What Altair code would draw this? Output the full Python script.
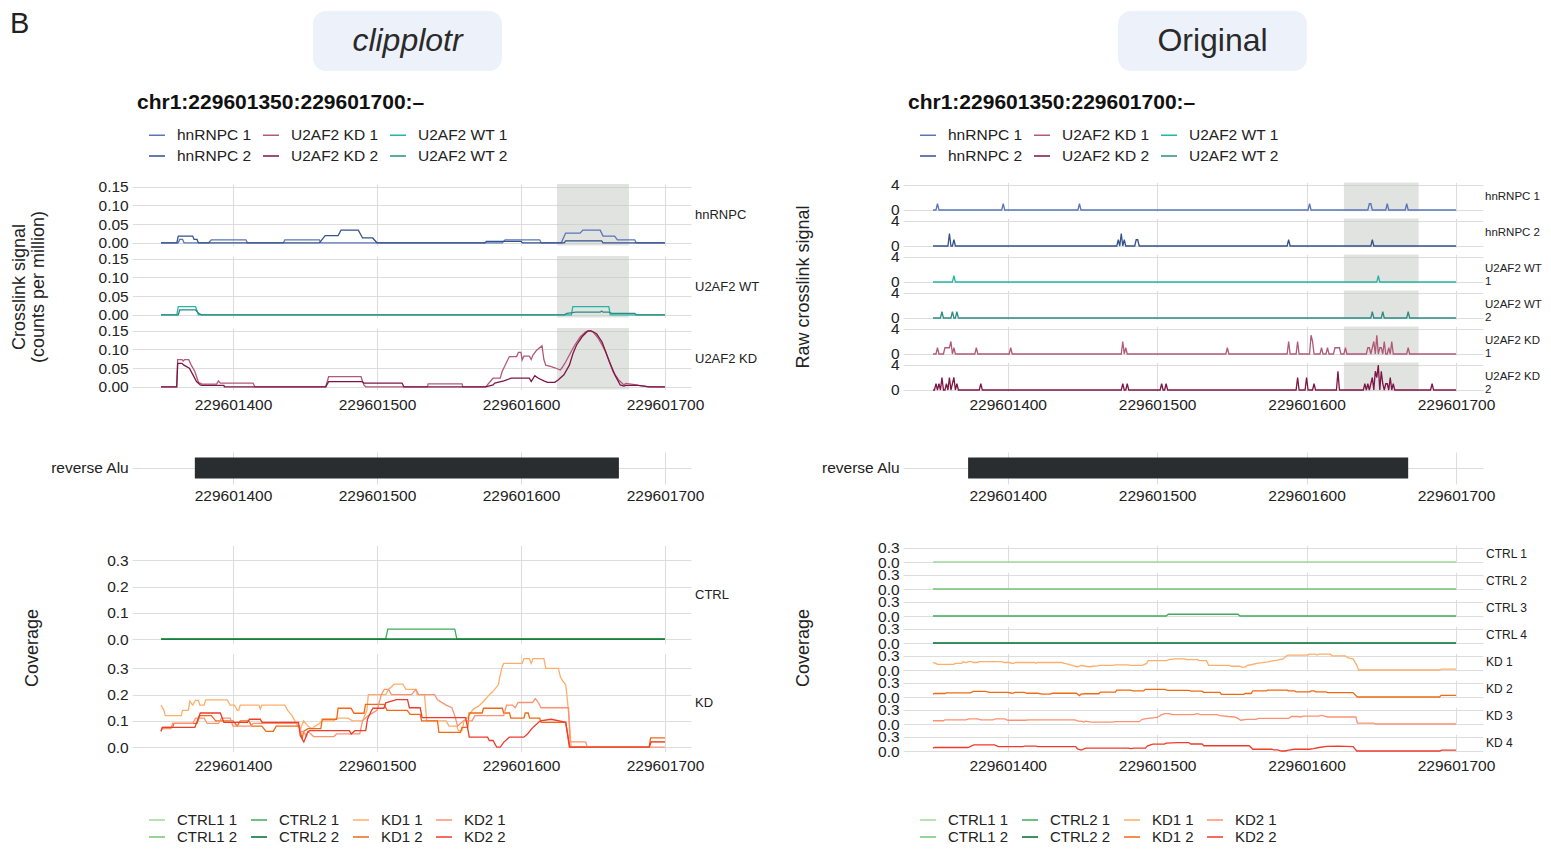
import altair as alt
import pandas as pd

# ---------------- data ----------------
BASE = 229601000          # genomic offset; positions below are BASE + value
REGION = (350, 700)
HIGHLIGHT = (625, 675)
ALU_NAME = ["reverse Alu"]
ALU_START, ALU_END = 373.5, 668
X_TICKS = [400, 500, 600, 700]
TITLE = "chr1:229601350:229601700:–"

XL_SERIES = ["hnRNPC 1", "hnRNPC 2", "U2AF2 KD 1", "U2AF2 KD 2", "U2AF2 WT 1", "U2AF2 WT 2"]
XL_COLORS = ["#5b74b8", "#34528a", "#b05a78", "#7e1645", "#27b5a3", "#2a8c84"]
COV_SERIES = ["CTRL1 1", "CTRL1 2", "CTRL2 1", "CTRL2 2", "KD1 1", "KD1 2", "KD2 1", "KD2 2"]
COV_COLORS = ["#a1d99b", "#74c476", "#41ab5d", "#006d2c", "#fdae6b", "#f16913", "#fc9272", "#ef3b2c"]

XL_GROUPS = ["hnRNPC", "U2AF2 WT", "U2AF2 KD"]
COV_GROUPS = ["CTRL", "KD"]
RAW_LABELS = ["hnRNPC 1", "hnRNPC 2", "U2AF2 WT\n1", "U2AF2 WT\n2", "U2AF2 KD\n1", "U2AF2 KD\n2"]
RAW_ORDER = ["hnRNPC 1", "hnRNPC 2", "U2AF2 WT 1", "U2AF2 WT 2", "U2AF2 KD 1", "U2AF2 KD 2"]
COVR_LABELS = ["CTRL 1", "CTRL 2", "CTRL 3", "CTRL 4", "KD 1", "KD 2", "KD 3", "KD 4"]
COVR_ORDER = ["CTRL1 1", "CTRL1 2", "CTRL2 1", "CTRL2 2", "KD1 1", "KD1 2", "KD2 1", "KD2 2"]

# smoothed crosslink signal (counts per million), (position, value)
hnRNPC_1 = [(350, 0), (362, 0), (363, .009), (365, .009), (366, 0), (383, 0), (385, .008), (409, .008),
            (410, 0), (435, 0), (436, .008), (460, .008), (461, 0), (587, 0), (589, .008), (613, .008),
            (614, 0), (628, 0), (631, .026), (641, .026), (643, .034), (655, .034), (657, .018),
            (665, .018), (667, .008), (679, .008), (680, 0), (700, 0)]
hnRNPC_2 = [(350, 0), (361, 0), (362, .018), (372, .018), (373, .009), (375, .009), (376, 0), (460, 0),
            (464, .019), (473, .019), (475, .034), (487, .034), (490, .013), (497, .013), (500, 0),
            (575, 0), (576, .004), (600, .004), (601, 0), (630, 0), (631, .005), (656, .005), (657, 0),
            (700, 0)]
WT_1 = [(350, 0), (361, 0), (362, .022), (374, .022), (376, 0), (635, 0), (636, .022), (661, .022),
        (662, 0), (700, 0)]
WT_2 = [(350, 0), (362, 0), (363, .013), (374, .013), (376, .005), (378, 0), (630, 0), (632, .004),
        (638, .007), (655, .007), (656, .01), (657, .007), (661, .007), (663, .004), (679, .004),
        (680, 0), (700, 0)]
KD_1 = [(350, 0), (360.9, 0), (361.6, .073), (364.6, .073), (365.4, .069), (366.4, .073), (369.2, .073),
        (371, .058), (373.5, .041), (376, .012), (378.5, .007), (388.6, .007), (389.9, .016),
        (391.2, .01), (413.9, .01), (415.2, 0), (464.4, 0), (466.4, .027), (488.9, .027), (490.9, .005),
        (492.2, 0), (535.1, 0), (535.5, .008), (559.1, .008), (559.5, 0), (575.5, 0), (580.6, .023),
        (585.6, .023), (586.9, .041), (591.9, .081), (597, .081), (598.2, .092), (600, .092),
        (600.8, .072), (602, .082), (605.8, .082), (607.1, .073), (608.3, .085), (610.9, .098),
        (614.6, .11), (615.9, .073), (617.2, .058), (621, .054), (623.5, .051), (627.3, .045),
        (628.5, .051), (631.1, .067), (634.8, .094), (637.4, .112), (641.2, .134), (644.9, .147),
        (647.5, .15), (650, .147), (653.8, .129), (656.3, .112), (658.8, .094), (661.4, .067),
        (663.9, .041), (667.7, .019), (671.5, .005), (672.7, .009), (680.3, .005), (681.6, .004),
        (689.1, 0), (700, 0)]
KD_2 = [(350, 0), (360.9, 0), (361.6, .063), (364.6, .063), (365.9, .058), (369.7, .05), (372.2, .032),
        (374.7, .014), (377.3, .005), (378.5, .004), (393.7, .004), (394, 0), (464.4, 0), (466.4, .014),
        (489.6, .014), (490.9, .01), (517.4, .01), (518.7, 0), (575.5, 0), (580.6, .005), (581.8, .01),
        (588.1, .016), (593.2, .023), (605.8, .023), (607.1, .014), (609.6, .03), (612.1, .023),
        (615.9, .016), (618.4, .012), (623.5, .012), (626, .019), (629.8, .032), (633.6, .058),
        (636.1, .089), (638.6, .112), (642.4, .134), (646.2, .149), (648.7, .15), (652.5, .142),
        (656.3, .12), (658.8, .094), (661.4, .067), (665.2, .032), (668.9, .005), (671.5, .002),
        (672.7, .004), (681.6, .004), (689.1, 0), (700, 0)]

# raw crosslink counts at single positions
RAW_hnRNPC_1 = {353: 1, 397: 1, 448: 1, 602: 1, 642: 1, 643: 1, 654: 1, 667: 1}
RAW_hnRNPC_2 = {361: 2, 364: 1, 474: 1, 476: 2, 478: 1, 486: 1, 487: 1, 588: 1, 644: 1}
RAW_WT_1 = {364: 1, 648: 1}
RAW_WT_2 = {356: 1, 363: 1, 366: 1, 644: 1, 651: 1, 668: 1}
RAW_KD_1 = {353: 1, 358: 1, 359: 1, 360: 1, 361: 1, 362: 2, 364: 1, 379: 1, 402: 1, 477: 2, 479: 1,
            547: 1, 588: 2, 594: 2, 603: 3, 604: 2, 610: 1, 614: 1, 619: 1, 620: 1, 621: 1, 622: 1,
            626: 1, 641: 1, 642: 1, 644: 1, 645: 2, 647: 3, 649: 1, 650: 1, 652: 2, 655: 1, 657: 2,
            668: 1}
RAW_KD_2 = {352: 1, 354: 1, 356: 2, 359: 1, 361: 2, 363: 1, 364: 2, 366: 1, 382: 1, 477: 1, 480: 1,
            503: 1, 506: 1, 594: 2, 600: 2, 605: 1, 621: 3, 639: 1, 641: 1, 643: 1, 644: 2, 646: 3,
            647: 2, 648: 4, 650: 3, 651: 1, 653: 1, 654: 1, 656: 2, 658: 1, 684: 1}

# coverage
CTRL1_1 = [(350, 0), (700, 0)]
CTRL1_2 = [(350, 0), (700, 0)]
CTRL2_1 = [(350, 0), (506, 0), (507.5, .038), (554, .038), (555.5, 0), (700, 0)]
CTRL2_2 = [(350, 0), (700, 0)]
KD1_1 = [(350, .16), (352, .14), (353, .12), (364, .12), (365, .14), (369, .14), (370, .175), (372, .16),
         (374, .178), (376, .178), (377, .16), (380, .16), (381, .18), (396, .18), (398, .16), (401, .16),
         (403, .14), (404, .14), (405, .16), (418, .16), (419, .145), (420, .16), (436, .16), (438, .14),
         (441, .12), (443, .1), (445, .08), (447, .07), (449, .1), (452, .08), (455, .07), (457, .08),
         (460, .09), (462, .1), (470, .1), (472, .11), (480, .11), (483, .1), (490, .1), (493, .14),
         (494, .2), (506, .2), (508, .22), (512, .24), (518, .24), (520, .22), (527, .22), (528, .2),
         (533, .2), (534.5, .1), (548, .1), (550, .08), (555.3, .08), (556.6, .0625), (559.1, .0625),
         (560.4, .1), (562.9, .1125), (566.7, .144), (570.5, .156), (574.2, .175), (578, .2),
         (580.6, .2125), (584.3, .2375), (585.6, .275), (586.9, .306), (588.1, .319), (600.8, .319),
         (602, .3375), (605.8, .3375), (607.1, .319), (608.3, .3375), (615.9, .3375), (617.2, .3),
         (626, .3), (627.3, .269), (628.5, .256), (631.1, .2375), (632.3, .175), (633.6, .1),
         (634.8, 0), (689, 0), (690, .02), (700, .02)]
KD1_2 = [(350, .06), (351, .075), (358, .075), (359, .09), (375, .09), (377, .12), (385, .12), (388, .1),
         (400, .1), (403, .08), (405, .1), (411, .1), (413, .08), (420, .08), (423, .06), (428, .06),
         (430, .08), (446, .08), (448, .03), (449, .06), (452, .07), (461, .07), (462, .106), (472, .106),
         (473, .148), (482, .148), (484, .129), (491, .129), (492, .1625), (505, .1625), (507, .14),
         (521, .14), (523, .125), (530, .125), (531, .1), (542, .1), (543, .056), (558, .056),
         (559, .075), (563, .075), (564, .13), (573, .13), (574, .148), (587, .148), (588, .13),
         (592, .13), (593, .11), (602, .11), (603, .13), (605, .13), (606, .11), (613, .11),
         (614, .094), (631, .094), (634, 0), (689, 0), (690, .035), (700, .035)]
KD2_1 = [(350, .07), (357, .07), (358, .09), (372, .09), (374, .11), (380, .11), (382, .09), (390, .09),
         (392, .11), (398, .11), (400, .08), (412, .08), (414, .09), (445, .09), (447, .06), (449, .06),
         (451, .04), (452, .06), (456, .04), (470, .04), (472, .05), (488, .05), (490, .1), (494, .12),
         (500, .14), (503, .2), (505, .22), (508, .22), (510, .2), (524, .2), (527, .22), (529, .2),
         (540, .2), (542, .18), (548, .16), (552, .15), (554, .12), (556, .08), (560, .1), (566, .1),
         (568, .12), (588, .12), (590, .16), (594, .16), (596, .15), (598, .17), (608, .17),
         (610, .185), (612, .17), (614, .15), (633, .15), (634, .02), (645, .02), (646, 0), (700, 0)]
KD2_2 = [(350, .06), (351, .075), (373.5, .075), (377.3, .13), (391.2, .13), (393.7, .094),
         (410.1, .094), (411.4, .106), (418.9, .106), (420.2, .094), (445.5, .094), (446.7, .044),
         (449.2, .019), (451.8, .056), (453, .0625), (480.8, .0625), (482.1, .05), (484.6, .0625),
         (492.2, .0625), (493.4, .106), (496, .1375), (497.2, .148), (504.8, .148), (506.1, .169),
         (513.6, .181), (521.2, .181), (522.5, .15), (530, .15), (531.3, .1125), (561.6, .1125),
         (564.1, .0375), (576.8, .0375), (578, .025), (580.6, .025), (583.1, 0), (585.6, 0),
         (588.1, .019), (591.9, .0375), (602, .0375), (604.5, .05), (608.3, .075), (613.4, .1),
         (621, .106), (631.1, .094), (633.6, 0), (689.1, 0), (690.4, .02), (700, .02)]

XL_DATA = {"hnRNPC 1": hnRNPC_1, "hnRNPC 2": hnRNPC_2, "U2AF2 WT 1": WT_1, "U2AF2 WT 2": WT_2,
           "U2AF2 KD 1": KD_1, "U2AF2 KD 2": KD_2}
RAW_DATA = {"hnRNPC 1": RAW_hnRNPC_1, "hnRNPC 2": RAW_hnRNPC_2, "U2AF2 WT 1": RAW_WT_1,
            "U2AF2 WT 2": RAW_WT_2, "U2AF2 KD 1": RAW_KD_1, "U2AF2 KD 2": RAW_KD_2}
COV_DATA = {"CTRL1 1": CTRL1_1, "CTRL1 2": CTRL1_2, "CTRL2 1": CTRL2_1, "CTRL2 2": CTRL2_2,
            "KD1 1": KD1_1, "KD1 2": KD1_2, "KD2 1": KD2_1, "KD2 2": KD2_2}

# ---------------- layout ----------------
W, H = 1535, 838
M = 8
FONT = "Liberation Sans"
TXT = "#222222"
GRID = "#dddddd"
AX_FS = 15.5


def cx(x):
    return x - M


def cy(y):
    return y - M


XDOM = [BASE + 330, BASE + 718]
XT = [BASE + t for t in X_TICKS]
L_XR = [cx(132.2), cx(690.9)]
R_XR = [cx(903.1), cx(1482.9)]
XL_DOM = [-0.0075, 0.1575]
RAW_DOM = [-0.21, 4.41]
COV_DOM = [-0.017, 0.357]

XL_COLOR = dict(zip(XL_SERIES, XL_COLORS))
COV_COLOR = dict(zip(COV_SERIES, COV_COLORS))


def pairs_df(names, source):
    rows = []
    for n in names:
        for p, v in source[n]:
            rows.append({"series": n, "pos": BASE + p, "val": v})
    return pd.DataFrame(rows)


def raw_df(name):
    sp = RAW_DATA[name]
    return pd.DataFrame({"series": name,
                         "pos": [BASE + p for p in range(REGION[0], REGION[1] + 1)],
                         "val": [sp.get(p, 0) for p in range(REGION[0], REGION[1] + 1)]})


def x_enc(xr):
    return alt.X("pos:Q", scale=alt.Scale(domain=XDOM, range=xr, nice=False, zero=False),
                 axis=alt.Axis(orient="top", values=XT, grid=True, labels=False, ticks=False,
                               domain=False, title=None, gridColor=GRID, gridWidth=1.1))


def y_enc(dom, yr, vals, fmt, xr):
    return alt.Y("val:Q", scale=alt.Scale(domain=dom, range=yr, nice=False, zero=False),
                 axis=alt.Axis(orient="left", values=vals, format=fmt, grid=True, ticks=False,
                               domain=False, title=None, offset=-xr[0], labelPadding=4,
                               labelFont=FONT, labelFontSize=AX_FS, labelColor=TXT,
                               gridColor=GRID, gridWidth=1.1, labelFlush=False,
                               labelOverlap=False, labelBound=False))


def text(t, x, y, size=13, align="left", angle=0, weight="normal", style="normal", font=FONT,
         color=TXT, lh=None):
    d = pd.DataFrame({"t": [t]})
    return alt.Chart(d).mark_text(
        align=align, baseline="middle", font=font, fontSize=size, fontWeight=weight,
        fontStyle=style, color=color, angle=angle, lineBreak="\n",
        lineHeight=lh if lh else size + 0.5
    ).encode(x=alt.value(cx(x)), y=alt.value(cy(y)), text="t:N")


def legend(x, y, cols, colpad, rowpad, fs=AX_FS):
    return alt.Legend(orient="none", legendX=cx(x), legendY=cy(y), columns=cols, title=None,
                      symbolType="stroke", symbolSize=256, symbolStrokeWidth=1.5,
                      labelFont=FONT, labelFontSize=fs, labelColor=TXT, labelOffset=11,
                      rowPadding=rowpad, columnPadding=colpad, padding=0, gridAlign="each")


def panel(df, xr, yr, dom, vals, fmt, color, hl=False, width=1.3):
    x = x_enc(xr)
    y = y_enc(dom, yr, vals, fmt, xr)
    layers = []
    if hl:
        hdf = pd.DataFrame({"pos": [BASE + HIGHLIGHT[0]], "pos2": [BASE + HIGHLIGHT[1]],
                            "val": [dom[0]], "val2": [dom[1]]})
        layers.append(alt.Chart(hdf).mark_rect(color="#c4c8c4", opacity=0.5).encode(
            x=x, x2="pos2:Q", y=y, y2="val2:Q"))
    layers.append(alt.Chart(df).mark_line(strokeWidth=width, interpolate="linear").encode(
        x=x, y=y, color=color, detail="series:N"))
    return alt.layer(*layers)


def x_labels(xr, yline):
    d = pd.DataFrame({"pos": XDOM})
    return alt.Chart(d).mark_point(opacity=0).encode(
        x=alt.X("pos:Q", scale=alt.Scale(domain=XDOM, range=xr, nice=False, zero=False),
                axis=alt.Axis(orient="bottom", values=XT, format="d", grid=False, ticks=False,
                              domain=False, title=None, offset=cy(yline) - H, labelPadding=2,
                              labelFont=FONT, labelFontSize=AX_FS, labelColor=TXT,
                              labelFlush=False, labelOverlap=False)))


def annot(xr):
    d = pd.DataFrame({"name": ALU_NAME, "pos": [BASE + ALU_START], "pos2": [BASE + ALU_END]})
    return alt.Chart(d).mark_bar(color="#2a2d30").encode(
        x=x_enc(xr), x2="pos2:Q",
        y=alt.Y("name:N", scale=alt.Scale(domain=ALU_NAME, range=[cy(452), cy(484)],
                                          paddingInner=0, paddingOuter=0.262),
                axis=alt.Axis(orient="left", grid=True, ticks=False, domain=False, title=None,
                              offset=-xr[0], labelPadding=4, bandPosition=0.5,
                              labelFont=FONT, labelFontSize=AX_FS, labelColor=TXT,
                              gridColor=GRID, gridWidth=1.1)))


layers = []

# headers
for name, x0, x1, style in [("clipplotr", 313, 502, "italic"), ("Original", 1118, 1307, "normal")]:
    hd = pd.DataFrame({"t": [name]})
    layers.append(alt.Chart(hd).mark_rect(color="#edf2fa", cornerRadius=13).encode(
        x=alt.value(cx(x0)), x2=alt.value(cx(x1)), y=alt.value(cy(11)), y2=alt.value(cy(71))))
    layers.append(text(name, (x0 + x1) / 2, 41, size=32, align="center", style=style,
                       color="#2a2a2a"))
layers.append(text("B", 10, 24, size=29, color="#222222"))

for dx in [0, 771]:
    layers.append(text(TITLE, 137 + dx, 103, size=21, weight="bold", color="#111111"))

# ---- left crosslink panels ----
for k, grp in enumerate(XL_GROUPS):
    names = [s for s in XL_SERIES if s.startswith(grp)]
    df = pairs_df(names, XL_DATA)
    col = alt.Color("series:N", scale=alt.Scale(domain=XL_SERIES, range=XL_COLORS),
                    legend=legend(148, 126, 3, 8, 3) if k == 0 else None)
    layers.append(panel(df, L_XR, [cy(245.6 + 72 * k), cy(184 + 72 * k)], XL_DOM,
                        [0, 0.05, 0.1, 0.15], ".2f", col, hl=True))
    layers.append(text(grp, 695, 214.8 + 72 * k))
layers.append(x_labels(L_XR, 395))
layers.append(text("Crosslink signal", 19.5, 287, size=18, align="center", angle=270))
layers.append(text("(counts per million)", 38.5, 287, size=18, align="center", angle=270))

# ---- right raw crosslink panels ----
for i, (name, lab) in enumerate(zip(RAW_ORDER, RAW_LABELS)):
    df = raw_df(name)
    if i == 0:
        col = alt.Color("series:N", scale=alt.Scale(domain=XL_SERIES, range=XL_COLORS),
                        legend=legend(919, 126, 3, 8, 3))
    else:
        col = alt.value(XL_COLOR[name])
    layers.append(panel(df, R_XR, [cy(211.3 + 36 * i), cy(182.4 + 36 * i)], RAW_DOM, [0, 4], "d",
                        col, hl=True))
    layers.append(text(lab, 1485, 196.85 + 36 * i, size=11.5, lh=13))
layers.append(x_labels(R_XR, 395))
layers.append(text("Raw crosslink signal", 804, 287, size=18, align="center", angle=270))

# ---- annotation tracks ----
layers.append(annot(L_XR))
layers.append(annot(R_XR))
layers.append(x_labels(L_XR, 486))
layers.append(x_labels(R_XR, 486))

# ---- left coverage ----
for k, grp in enumerate(COV_GROUPS):
    names = [s for s in COVR_ORDER if s.startswith(grp)]
    df = pairs_df(names, COV_DATA)
    col = alt.Color("series:N", scale=alt.Scale(domain=COV_SERIES, range=COV_COLORS),
                    legend=legend(148, 811, 4, 10, 0, 15) if k == 0 else None)
    yr = [cy(643.5), cy(545.5)] if k == 0 else [cy(751.5), cy(653.5)]
    layers.append(panel(df, L_XR, yr, COV_DOM, [0, 0.1, 0.2, 0.3], ".1f", col))
    layers.append(text(grp, 695, (yr[0] + yr[1]) / 2 + M))
layers.append(x_labels(L_XR, 756))
layers.append(text("Coverage", 33, 648, size=18, align="center", angle=270))

# ---- right coverage ----
for i, (name, lab) in enumerate(zip(COVR_ORDER, COVR_LABELS)):
    df = pairs_df([name], COV_DATA)
    if i == 0:
        col = alt.Color("series:N", scale=alt.Scale(domain=COV_SERIES, range=COV_COLORS),
                        legend=legend(919, 811, 4, 10, 0, 15))
    else:
        col = alt.value(COV_COLOR[name])
    layers.append(panel(df, R_XR, [cy(562.8 + 27 * i), cy(545.3 + 27 * i)], COV_DOM, [0, 0.3],
                        ".1f", col))
    layers.append(text(lab, 1486, 554 + 27 * i, size=12))
layers.append(x_labels(R_XR, 756))
layers.append(text("Coverage", 804, 648, size=18, align="center", angle=270))

chart = alt.layer(*layers).resolve_scale(
    x="independent", y="independent", color="independent"
).resolve_axis(x="independent", y="independent").resolve_legend(color="independent").properties(
    width=W, height=H, padding=0, autosize=alt.AutoSizeParams(type="none"), background="white"
).configure_view(stroke=None)

chart.save("out.html", embed_options={"renderer": "svg", "actions": False})
